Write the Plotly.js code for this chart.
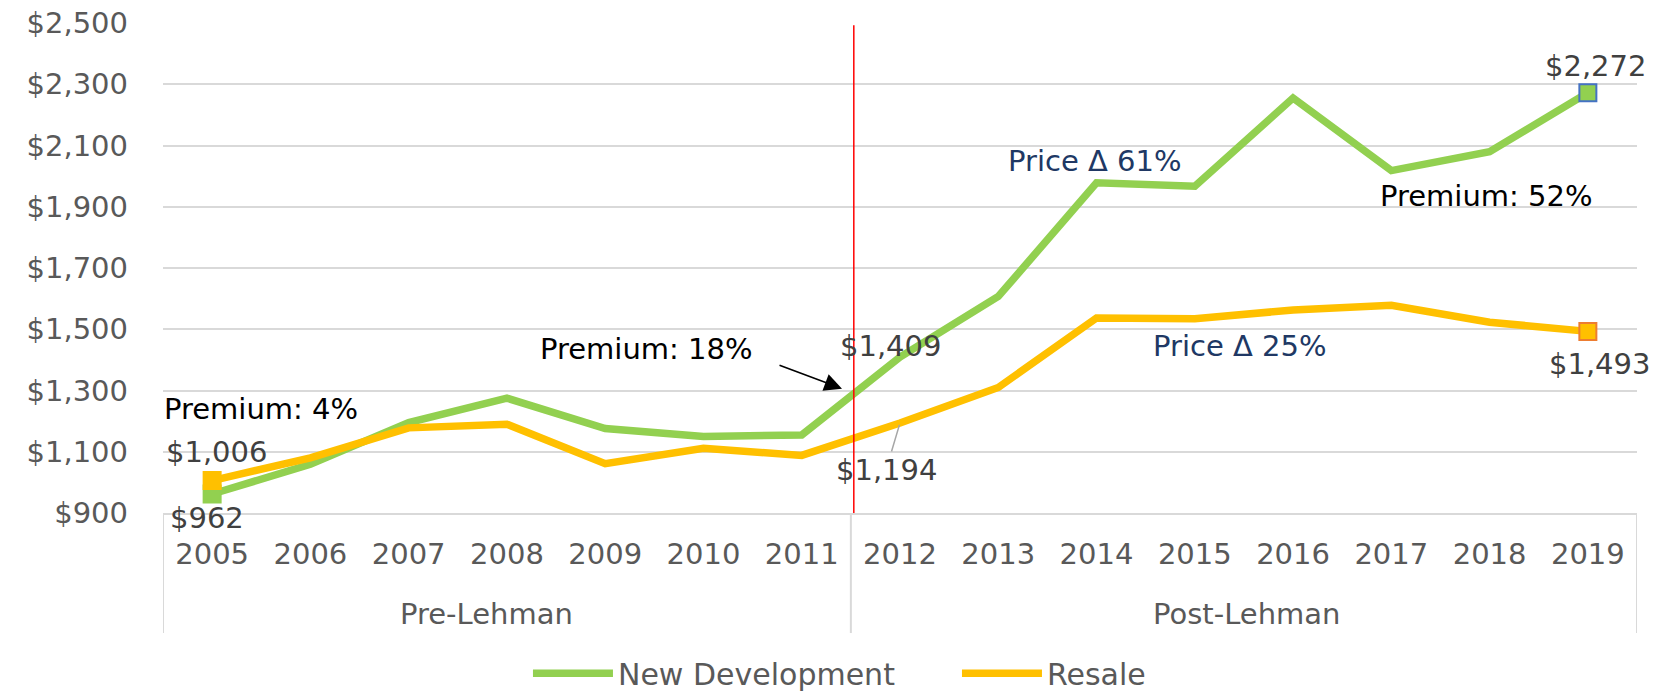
<!DOCTYPE html>
<html>
<head>
<meta charset="utf-8">
<script src="https://cdn.plot.ly/plotly-3.0.1.min.js"></script>
<style>
html,body{margin:0;padding:0;background:#fff;}
#chart{width:1660px;height:691px;}
</style>
</head>
<body>
<div id="chart"></div>
<script>
// ---- data ----
var years = [2005, 2006, 2007, 2008, 2009, 2010, 2011, 2012, 2013, 2014, 2015, 2016, 2017, 2018, 2019];
var newDevelopment = [962, 1059, 1195, 1275, 1176, 1150, 1155, 1409, 1607, 1978, 1967, 2255, 2018, 2080, 2272];
var resale = [1006, 1080, 1178, 1190, 1061, 1111, 1088, 1194, 1310, 1537, 1534, 1563, 1578, 1523, 1493];
var seriesNames = ["New Development", "Resale"];
var groupLabels = ["Pre-Lehman", "Post-Lehman"];
var groupYears = [[2005, 2011], [2012, 2019]];
var yTickValues = [900, 1100, 1300, 1500, 1700, 1900, 2100, 2300, 2500];

// ---- styles ----
var GREEN = "#92d050", YELLOW = "#ffc000";
var FONT = "DejaVu Sans";
var GREY = "#595959", DARK = "#404040", NAVY = "#203864", GRID = "#d9d9d9";
var last = years.length - 1;
var groupLabelShift = [-20, 3];

function fmt(v){ return "$" + v.toLocaleString("en-US"); }

var traces = [
  {x: years, y: newDevelopment, name: seriesNames[0], type: "scatter", mode: "lines",
   line: {color: GREEN, width: 7.5}, hoverinfo: "x+y"},
  {x: years, y: resale, name: seriesNames[1], type: "scatter", mode: "lines",
   line: {color: YELLOW, width: 7.5}, hoverinfo: "x+y"},
  {x: [years[0], years[last]], y: [newDevelopment[0], newDevelopment[last]], type: "scatter", mode: "markers",
   showlegend: false, hoverinfo: "skip",
   marker: {symbol: "square", size: 17, color: GREEN, line: {color: [GREEN, "#4472c4"], width: 2}}},
  {x: [years[0], years[last]], y: [resale[0], resale[last]], type: "scatter", mode: "markers",
   showlegend: false, hoverinfo: "skip",
   marker: {symbol: "square", size: 17, color: YELLOW, line: {color: [YELLOW, "#ed7d31"], width: 2}}}
];

var annFont = function(c, s){ return {family: FONT, size: s || 29, color: c}; };
var annotations = [
  // data labels
  {x: years[0], y: resale[0], text: fmt(resale[0]), showarrow: false, xshift: 4, yshift: 29, font: annFont(DARK)},
  {x: years[0], y: newDevelopment[0], text: fmt(newDevelopment[0]), showarrow: false, xshift: -5, yshift: -24, font: annFont(DARK)},
  {x: years[7], y: newDevelopment[7], text: fmt(newDevelopment[7]), showarrow: false, xshift: -10, yshift: 11, font: annFont(DARK)},
  {x: years[7], y: resale[7], text: fmt(resale[7]), showarrow: true, arrowhead: 0, arrowwidth: 1.5,
   arrowcolor: "#a6a6a6", ax: -14, ay: 47, standoff: 2, font: annFont(DARK)},
  {x: years[last], y: newDevelopment[last], text: fmt(newDevelopment[last]), showarrow: false, xshift: 8, yshift: 27, font: annFont(DARK)},
  {x: years[last], y: resale[last], text: fmt(resale[last]), showarrow: false, xshift: 12, yshift: -33, font: annFont(DARK)},
  // commentary
  {x: 2005.5, y: 1239, text: "Premium: 4%", showarrow: false, font: annFont("#000", 29)},
  {x: 2009.42, y: 1435, text: "Premium: 18%", showarrow: false, font: annFont("#000", 29)},
  {x: 2011.41, y: 1306, text: "", showarrow: true, arrowhead: 2, arrowsize: 2.2, arrowwidth: 1.6,
   arrowcolor: "#000", ax: -64, ay: -24},
  {x: 2013.98, y: 2049, text: "Price \u0394 61%", showarrow: false, font: annFont(NAVY, 29)},
  {x: 2017.97, y: 1936, text: "Premium: 52%", showarrow: false, font: annFont("#000", 29)},
  {x: 2015.45, y: 1446, text: "Price \u0394 25%", showarrow: false, font: annFont(NAVY, 29)}
];
// group labels under the year axis
groupLabels.forEach(function(g, i){
  annotations.push({x: (groupYears[i][0] + groupYears[i][1]) / 2, xref: "x", y: -0.2055, yref: "paper",
    yanchor: "middle", xshift: groupLabelShift[i], text: g, showarrow: false, font: annFont(GREY, 29)});
});

var shapes = [
  {type: "line", xref: "x", yref: "y", x0: 2011.53, x1: 2011.53, y0: 900, y1: 2493,
   line: {color: "#ff0000", width: 1.5}, layer: "above"}
];
var dividers = [groupYears[0][0] - 0.5, groupYears[0][1] + 0.5, groupYears[1][1] + 0.5];
dividers.forEach(function(d){
  shapes.push({type: "line", xref: "x", yref: "paper", x0: d, x1: d, y0: 0, y1: -0.245,
    line: {color: GRID, width: 2}, layer: "below"});
});

var layout = {
  width: 1660, height: 691,
  margin: {l: 163, r: 23, t: 23, b: 178, autoexpand: false},
  paper_bgcolor: "#fff", plot_bgcolor: "#fff",
  font: {family: FONT, size: 29, color: GREY},
  showlegend: true,
  legend: {orientation: "h", x: 0.2476, xanchor: "left", y: -0.327, yanchor: "middle",
           font: {family: FONT, size: 30, color: GREY}, itemwidth: 80, entrywidth: 334,
           entrywidthmode: "pixels", traceorder: "normal"},
  xaxis: {range: [2004.5, 2019.5], tickmode: "array", tickvals: years, ticktext: years.map(String),
          showgrid: false, zeroline: false, showline: true, linecolor: GRID, linewidth: 2,
          ticks: "", ticklabelstandoff: 14, tickfont: {family: FONT, size: 29, color: GREY}, fixedrange: true},
  yaxis: {range: [900, 2500], tickmode: "array", tickvals: yTickValues, ticktext: yTickValues.map(fmt),
          showgrid: true, gridcolor: GRID, gridwidth: 2, zeroline: false, showline: false,
          ticks: "", ticklabelstandoff: 34, tickfont: {family: FONT, size: 29, color: GREY}, fixedrange: true},
  annotations: annotations,
  shapes: shapes
};

Plotly.newPlot("chart", traces, layout, {displayModeBar: false, staticPlot: true});
</script>
</body>
</html>
